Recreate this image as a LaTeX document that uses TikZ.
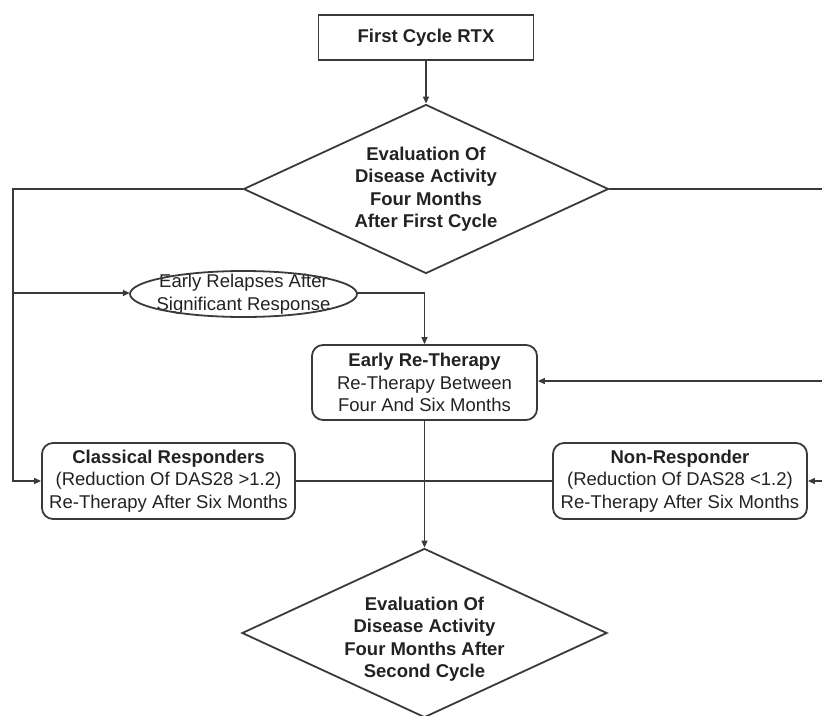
\documentclass[tikz,border=0pt]{standalone}
\usepackage{fontspec}
\setmainfont{Liberation Sans}
\usetikzlibrary{arrows.meta,shapes.geometric}
\definecolor{ink}{HTML}{222222}
\definecolor{linec}{HTML}{3A3A3A}
\begin{document}
\begin{tikzpicture}[x=1pt,y=-1pt,
  font=\fontsize{18.5}{22.5}\selectfont, text=ink,
  every node/.style={inner sep=0pt, align=center},
  plainbox/.style={draw=linec, line width=1.8pt, minimum width=215pt, minimum height=45pt},
  rbox/.style={draw=linec, line width=1.8pt, rounded corners=11pt, minimum height=76pt},
  dia/.style={diamond, aspect=2.16, draw=linec, line width=1.8pt, minimum width=365pt, minimum height=169pt},
  ellbox/.style={minimum width=227pt, minimum height=46pt},
  link/.style={draw=linec, line width=1.3pt},
  conn/.style={link, -{Triangle[length=7pt,width=6pt]}}
]
\useasboundingbox (0,0) rectangle (822,715);

\node[plainbox] (start) at (426,37.5) {\bfseries First Cycle RTX};
\node[dia] (d1) at (426,189) {};
\node[font=\fontsize{18.5}{22.5}\selectfont\bfseries] (d1t) at (d1.center) {Evaluation Of\\Disease Activity\\Four Months\\After First Cycle};
\node[ellbox] (ell) at (243.5,294) {Early Relapses After\\Significant Response};
\draw[draw=linec, line width=1.8pt] (ell.center) ellipse [x radius=113.5pt, y radius=23pt];
\node[rbox, minimum width=225pt, minimum height=75pt] (early) at (424.5,382.5) {\textbf{Early Re-Therapy}\\Re-Therapy Between\\Four And Six Months};
\node[rbox, minimum width=253pt] (class) at (168.5,481) {\textbf{Classical Responders}\\(Reduction Of DAS28 >1.2)\\Re-Therapy After Six Months};
\node[rbox, minimum width=254pt] (non) at (680,481) {\textbf{Non-Responder}\\(Reduction Of DAS28 <1.2)\\Re-Therapy After Six Months};
\node[dia] (d2) at (424.5,633) {};
\node[font=\fontsize{18.5}{22.5}\selectfont\bfseries] (d2t) at (424.5,639) {Evaluation Of\\Disease Activity\\Four Months After\\Second Cycle};

\coordinate (L1) at (13,189);
\coordinate (L2) at (13,293);
\coordinate (L3) at (13,481);
\coordinate (R1) at (824,189);
\coordinate (R2) at (824,381);
\coordinate (R3) at (824,481);

\draw[conn] (start) -- (d1.north);
\draw[conn] (d1.west) -- (L1) -- (L3) -- (class.west);
\draw[conn] (L2) -- (ell.west |- L2);
\draw[conn] (ell.east |- L2) -| (early.north);
\draw[link] (d1.east) -- (R1) -- (R3);
\draw[conn] (R2) -- (early.east |- R2);
\draw[conn] (R3) -- (non.east);
\draw[link] (class.east) -- (non.west);
\draw[conn] (early.south) -- (d2.north);
\end{tikzpicture}
\end{document}
